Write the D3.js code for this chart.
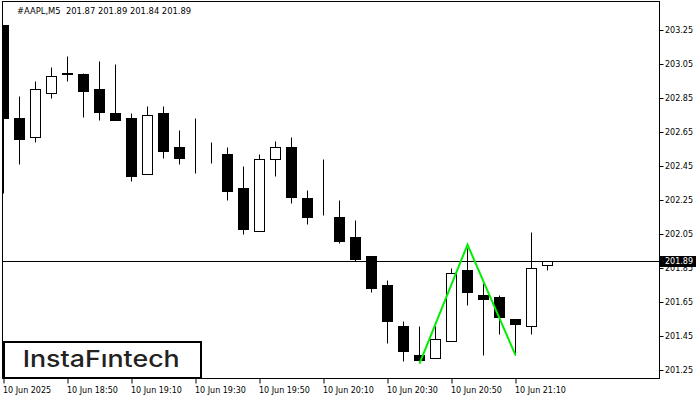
<!DOCTYPE html>
<html><head><meta charset="utf-8">
<script src="https://cdn.jsdelivr.net/npm/d3@7"></script>
<style>html,body{margin:0;padding:0;background:#fff;} svg{display:block}</style>
</head><body>
<svg id="c" width="700" height="400"></svg>
<script>
const symbolLabel = "#AAPL,M5  201.87 201.89 201.84 201.89";
const times = ["18:30","18:35","18:40","18:45","18:50","18:55","19:00","19:05","19:10","19:15",
  "19:20","19:25","19:30","19:35","19:40","19:45","19:50","19:55","20:00","20:05",
  "20:10","20:15","20:20","20:25","20:30","20:35","20:40","20:45","20:50","20:55",
  "21:00","21:05","21:10","21:15","21:20"];
const opens  = [203.28,202.73,202.62,202.88,203.00,202.99,202.90,202.76,202.73,202.40,
  202.76,202.56,202.49,202.50,202.52,202.32,202.07,202.49,202.56,202.26,
  202.16,202.15,202.03,201.92,201.75,201.51,201.34,201.32,201.42,201.84,
  201.69,201.68,201.55,201.51,201.87];
const highs  = [203.28,202.86,202.95,203.03,203.10,203.00,203.07,203.05,202.76,202.80,
  202.80,202.66,202.73,202.59,202.56,202.45,202.52,202.60,202.62,202.31,
  202.49,202.25,202.13,201.92,201.78,201.54,201.51,201.51,201.85,201.97,
  201.76,201.69,201.55,202.06,201.89];
const lows   = [202.29,202.46,202.59,202.85,202.95,202.74,202.72,202.72,202.36,202.40,
  202.50,202.46,202.41,202.47,202.25,202.05,202.07,202.39,202.23,202.11,
  202.16,202.00,201.89,201.71,201.41,201.30,201.31,201.32,201.42,201.63,
  201.34,201.46,201.34,201.46,201.84];
const closes = [202.73,202.61,202.90,202.98,202.99,202.89,202.77,202.72,202.39,202.75,
  202.54,202.50,202.49,202.50,202.30,202.08,202.49,202.56,202.27,202.15,
  202.16,202.01,201.90,201.73,201.54,201.36,201.31,201.43,201.82,201.71,
  201.67,201.56,201.52,201.85,201.89];
const yTicks = [203.25,203.05,202.85,202.65,202.45,202.25,202.05,201.85,201.65,201.45,201.25];
const xTickTimes  = ["18:30","18:50","19:10","19:30","19:50","20:10","20:30","20:50","21:10"];
const xTickLabels = ["10 Jun 2025","10 Jun 18:50","10 Jun 19:10","10 Jun 19:30","10 Jun 19:50",
  "10 Jun 20:10","10 Jun 20:30","10 Jun 20:50","10 Jun 21:10"];
const currentPrice = 201.89;
const patternTimes  = ["20:40","20:55","21:10"];
const patternPrices = [201.29, 201.99, 201.34];
const logoText = "InstaF\u0131ntech";

const svg = d3.select("#c");
const L = 2.5, R = 659.5, T = 1.5, B = 378.5;
const x = d3.scalePoint().domain(times).range([3.5, 3.5 + 16 * (times.length - 1)]);
const y = d3.scaleLinear().domain([201.25, 203.25]).range([370.5, 30.5]);
const py = v => Math.round(y(v) - 0.5) + 0.5;
const font = "'DejaVu Sans', sans-serif";

svg.append("defs").append("clipPath").attr("id", "plot")
  .append("rect").attr("x", L).attr("y", T).attr("width", R - L).attr("height", B - T);

const g = svg.append("g").attr("clip-path", "url(#plot)");

// current price line
g.append("line").attr("x1", L).attr("x2", R)
  .attr("y1", py(currentPrice)).attr("y2", py(currentPrice))
  .attr("stroke", "#000").attr("stroke-width", 1);

const data = times.map((t, i) => ({t, o: opens[i], h: highs[i], l: lows[i], c: closes[i]}));
const cg = g.selectAll("g.candle").data(data).join("g").attr("class", "candle");
cg.append("line")
  .attr("x1", d => x(d.t)).attr("x2", d => x(d.t))
  .attr("y1", d => py(d.h)).attr("y2", d => py(d.l))
  .attr("stroke", "#000").attr("stroke-width", 1);
cg.append("rect")
  .attr("x", d => x(d.t) - 5).attr("width", 10)
  .attr("y", d => py(Math.max(d.o, d.c)))
  .attr("height", d => Math.max(0, py(Math.min(d.o, d.c)) - py(Math.max(d.o, d.c))))
  .attr("fill", d => d.c > d.o ? "#fff" : "#000")
  .attr("stroke", "#000").attr("stroke-width", 1);

// pattern line
g.append("path")
  .datum(patternTimes.map((t, i) => [x(t), y(patternPrices[i])]))
  .attr("d", d3.line())
  .attr("fill", "none").attr("stroke", "#00ee00").attr("stroke-width", 2);

// frame
svg.append("rect").attr("x", L).attr("y", T).attr("width", R - L).attr("height", B - T)
  .attr("fill", "none").attr("stroke", "#000").attr("stroke-width", 1);

// y axis
const yAxis = svg.append("g").attr("transform", `translate(${R},0)`)
  .call(d3.axisRight(y).tickValues(yTicks).tickSize(4).tickPadding(1.5).tickFormat(d3.format(".2f")));
yAxis.select(".domain").remove();
yAxis.selectAll(".tick").attr("transform", d => `translate(0,${py(d)})`);
yAxis.selectAll("text").attr("font-family", font).attr("font-size", 8).attr("fill", "#000");

// x axis
const xAxis = svg.append("g").attr("transform", `translate(0,${B})`)
  .call(d3.axisBottom(x).tickValues(xTickTimes).tickSize(5).tickFormat((d, i) => xTickLabels[i]));
xAxis.select(".domain").remove();
xAxis.selectAll("text").attr("font-family", font).attr("font-size", 8).attr("fill", "#000")
  .attr("text-anchor", "start").attr("x", -1).attr("y", 9).attr("dy", "0.71em");

// price label box
svg.append("rect").attr("x", 660).attr("y", py(currentPrice) - 5.5).attr("width", 36).attr("height", 11).attr("fill", "#000");
svg.append("text").attr("x", 665).attr("y", py(currentPrice)).attr("dy", "0.36em")
  .attr("font-family", font).attr("font-size", 8).attr("fill", "#fff").text(currentPrice.toFixed(2));

// header
svg.append("text").attr("x", 17).attr("y", 13.5).attr("font-family", font).attr("font-size", 8.4)
  .attr("fill", "#000").attr("xml:space", "preserve").style("white-space", "pre").text(symbolLabel);

// logo
svg.append("rect").attr("x", 4).attr("y", 342).attr("width", 197).attr("height", 36)
  .attr("fill", "#fff").attr("stroke", "#000").attr("stroke-width", 2);
svg.append("text").attr("x", 22.7).attr("y", 367).attr("font-family", "Inter, 'Open Sans', sans-serif")
  .attr("font-size", 23).attr("font-weight", 500).attr("fill", "#222")
  .attr("textLength", 157).attr("lengthAdjust", "spacingAndGlyphs").text(logoText);
</script>
</body></html>
